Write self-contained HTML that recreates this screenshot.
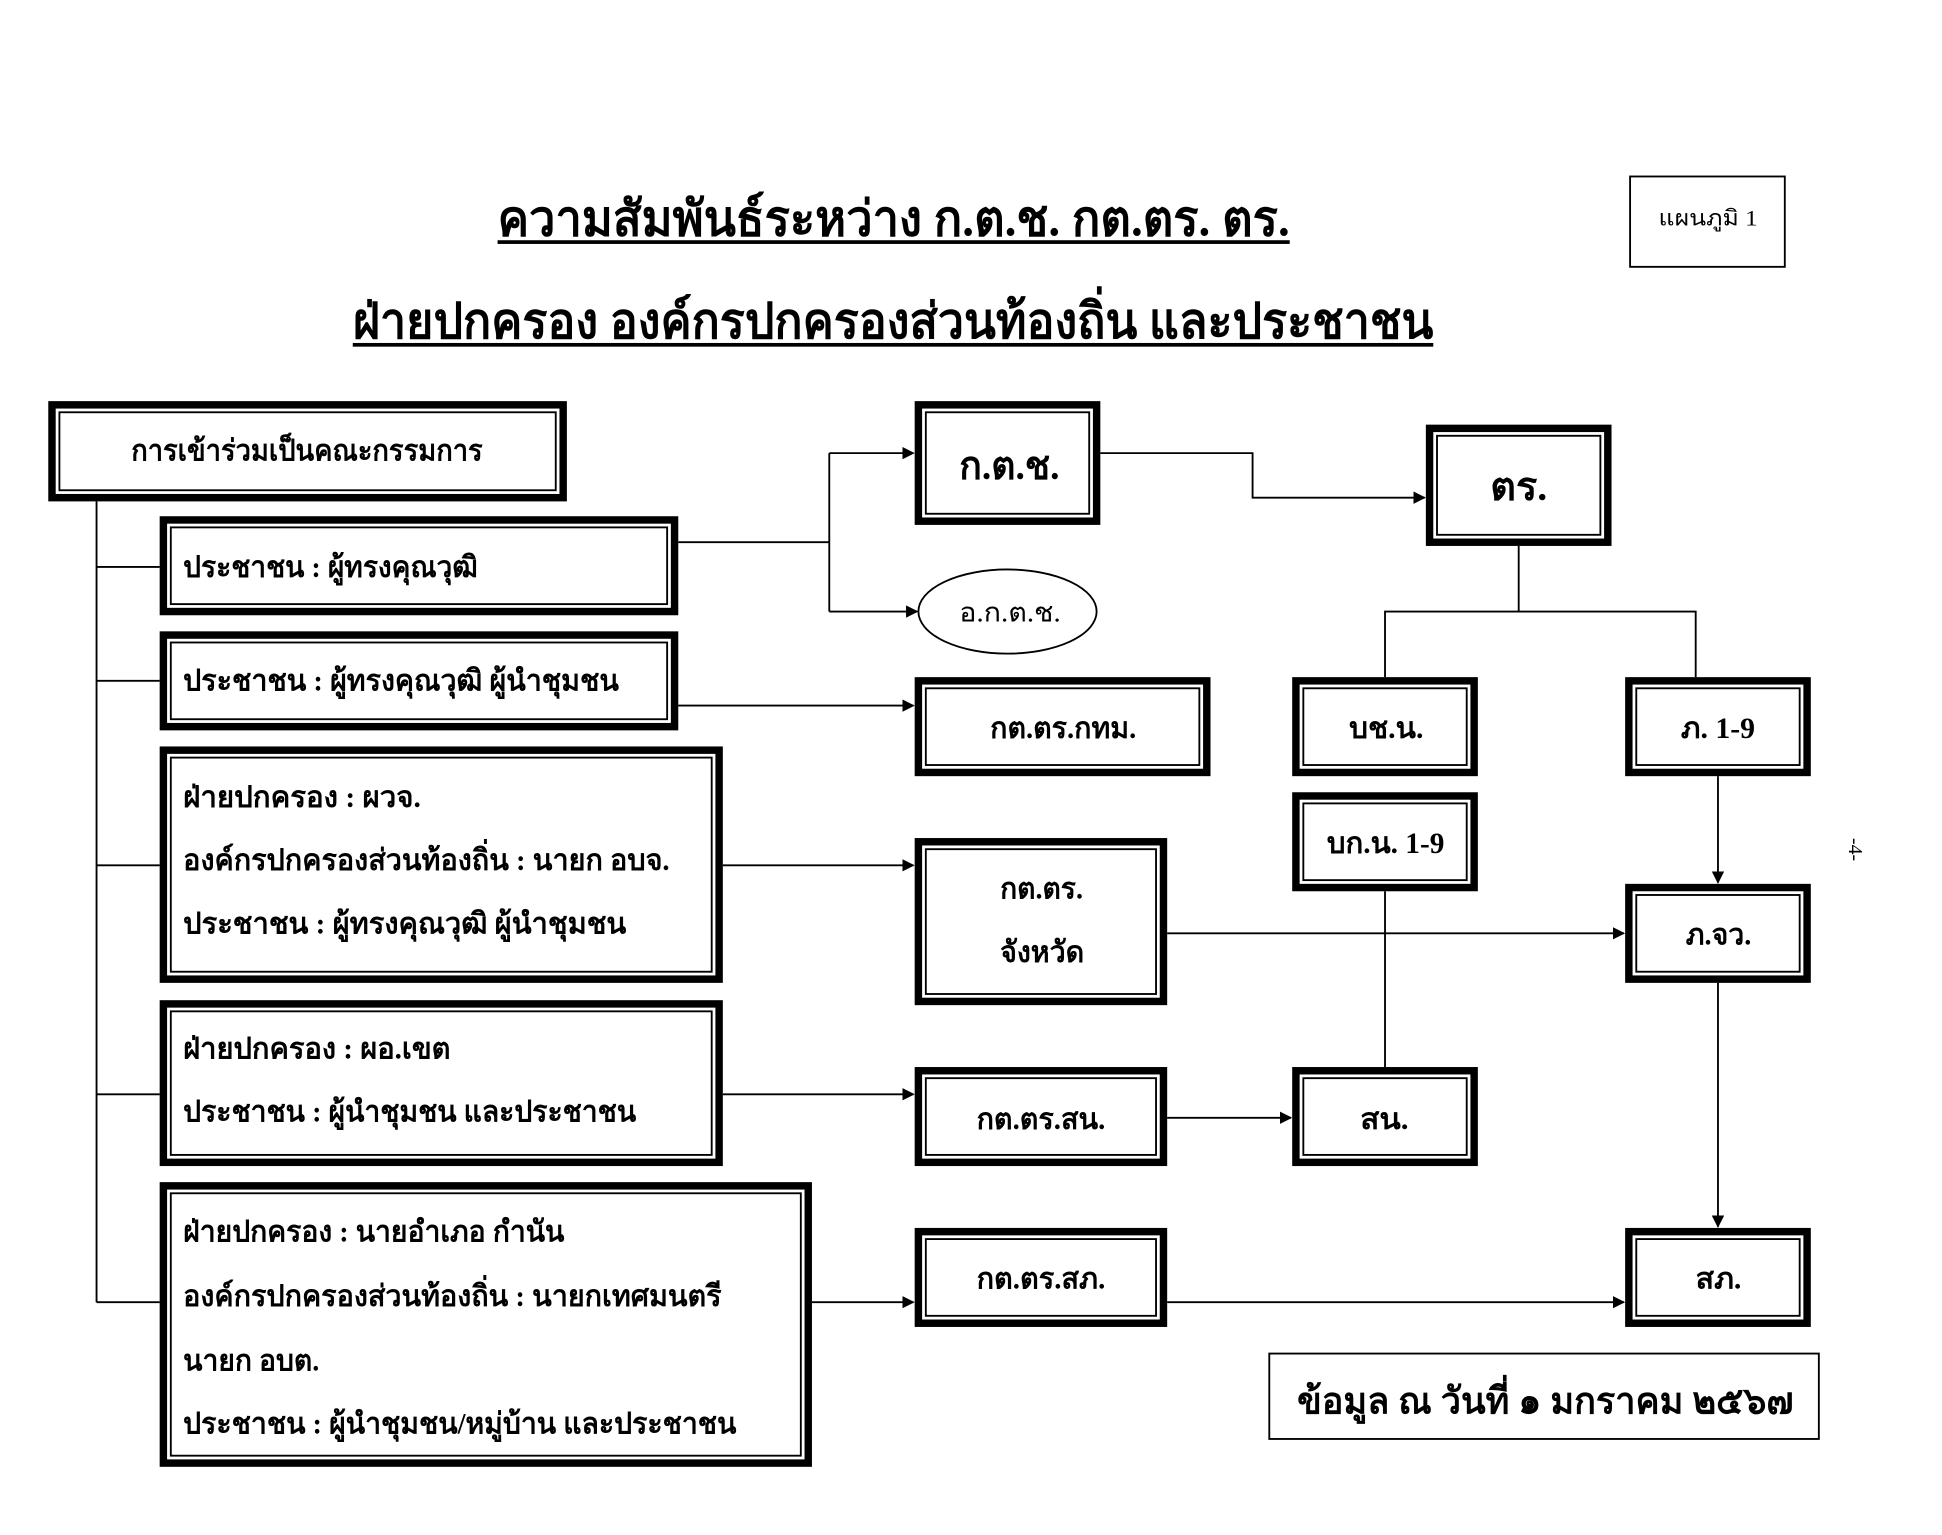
<!DOCTYPE html>
<html><head><meta charset="utf-8"><style>
html,body{margin:0;padding:0;background:#fff;}
svg{display:block}
text{font-family:"Liberation Serif","DejaVu Sans",serif;fill:#000}
.b{font-weight:bold}
</style></head><body>
<svg width="1942" height="1535" viewBox="0 0 1569 1240" xmlns="http://www.w3.org/2000/svg">
<defs>
<marker id="ar" markerWidth="10" markerHeight="10" refX="9" refY="5" orient="auto" markerUnits="userSpaceOnUse">
<path d="M0,0 L10,5 L0,10 z" fill="#000"/></marker>
</defs>
<rect width="1569" height="1240" fill="#fff"/>
<!-- titles -->
<text class="b" x="402" y="190" font-size="40" textLength="640" lengthAdjust="spacingAndGlyphs">ความสัมพันธ์ระหว่าง ก.ต.ช. กต.ตร. ตร.</text>
<rect x="402" y="194" width="640" height="3" fill="#000"/>
<text class="b" x="285" y="273" font-size="40" textLength="873" lengthAdjust="spacingAndGlyphs">ฝ่ายปกครอง องค์กรปกครองส่วนท้องถิ่น และประชาชน</text>
<rect x="285" y="277" width="873" height="3" fill="#000"/>
<rect x="1317" y="142.5" width="125" height="73" fill="none" stroke="#000" stroke-width="1.5"/>
<text x="1340" y="182" font-size="18" textLength="80" lengthAdjust="spacingAndGlyphs">แผนภูมิ 1</text>

<g fill="none" stroke="#000">
<g stroke-width="6">
<rect x="42" y="327" width="413" height="75"/>
<rect x="132" y="420" width="413" height="74"/>
<rect x="132" y="513" width="413" height="74"/>
<rect x="132" y="606" width="449" height="185"/>
<rect x="132" y="811" width="449" height="128"/>
<rect x="132" y="958" width="521" height="224"/>
<rect x="742" y="327" width="144" height="94"/>
<rect x="1155" y="346" width="144" height="92"/>
<rect x="1047" y="550" width="144" height="74"/>
<rect x="1316" y="550" width="144" height="74"/>
<rect x="1047" y="643" width="144" height="74"/>
<rect x="742" y="550" width="233" height="74"/>
<rect x="742" y="680" width="198" height="129"/>
<rect x="1316" y="717" width="144" height="74"/>
<rect x="742" y="865" width="198" height="74"/>
<rect x="1047" y="865" width="144" height="74"/>
<rect x="742" y="995" width="198" height="74"/>
<rect x="1316" y="995" width="144" height="74"/>
</g>
<g stroke-width="1.5">
<rect x="48" y="333" width="401" height="63"/>
<rect x="138" y="426" width="401" height="62"/>
<rect x="138" y="519" width="401" height="62"/>
<rect x="138" y="612" width="437" height="173"/>
<rect x="138" y="817" width="437" height="116"/>
<rect x="138" y="964" width="509" height="212"/>
<rect x="748" y="333" width="132" height="82"/>
<rect x="1161" y="352" width="132" height="80"/>
<rect x="1053" y="556" width="132" height="62"/>
<rect x="1322" y="556" width="132" height="62"/>
<rect x="1053" y="649" width="132" height="62"/>
<rect x="748" y="556" width="221" height="62"/>
<rect x="748" y="686" width="186" height="117"/>
<rect x="1322" y="723" width="132" height="62"/>
<rect x="748" y="871" width="186" height="62"/>
<rect x="1053" y="871" width="132" height="62"/>
<rect x="748" y="1001" width="186" height="62"/>
<rect x="1322" y="1001" width="132" height="62"/>
<rect x="1025.5" y="1093.5" width="444" height="69"/>
<ellipse cx="814" cy="494" rx="72" ry="34"/>
<path d="M78 405 V1052 M78 458 H129 M78 550 H129 M78 699 H129 M78 884 H129 M78 1052 H129"/>
<path d="M548 438 H670 M670 366 V494"/>
<path d="M670 366 H738" marker-end="url(#ar)"/>
<path d="M670 494 H741" marker-end="url(#ar)"/>
<path d="M889 366 H1012 V402 H1151" marker-end="url(#ar)"/>
<path d="M1227 441 V494 M1119 547 V494 H1370 V547"/>
<path d="M548 570 H738" marker-end="url(#ar)"/>
<path d="M584 699 H738" marker-end="url(#ar)"/>
<path d="M943 754 H1312" marker-end="url(#ar)"/>
<path d="M1388 627 V713" marker-end="url(#ar)"/>
<path d="M1388 794 V991" marker-end="url(#ar)"/>
<path d="M1119 720 V862"/>
<path d="M584 884 H738" marker-end="url(#ar)"/>
<path d="M943 903 H1043" marker-end="url(#ar)"/>
<path d="M656 1052 H738" marker-end="url(#ar)"/>
<path d="M943 1052 H1312" marker-end="url(#ar)"/>
</g>
</g>

<g class="b" font-size="24">
<text x="106" y="372" textLength="284" lengthAdjust="spacingAndGlyphs">การเข้าร่วมเป็นคณะกรรมการ</text>
<text x="148" y="466" textLength="238" lengthAdjust="spacingAndGlyphs">ประชาชน : ผู้ทรงคุณวุฒิ</text>
<text x="148" y="558" textLength="352" lengthAdjust="spacingAndGlyphs">ประชาชน : ผู้ทรงคุณวุฒิ  ผู้นำชุมชน</text>
<text x="148" y="652" textLength="192" lengthAdjust="spacingAndGlyphs">ฝ่ายปกครอง :  ผวจ.</text>
<text x="148" y="703" textLength="393" lengthAdjust="spacingAndGlyphs">องค์กรปกครองส่วนท้องถิ่น : นายก อบจ.</text>
<text x="148" y="754" textLength="358" lengthAdjust="spacingAndGlyphs">ประชาชน  : ผู้ทรงคุณวุฒิ  ผู้นำชุมชน</text>
<text x="148" y="855" textLength="216" lengthAdjust="spacingAndGlyphs">ฝ่ายปกครอง :  ผอ.เขต</text>
<text x="148" y="906" textLength="366" lengthAdjust="spacingAndGlyphs">ประชาชน  : ผู้นำชุมชน และประชาชน</text>
<text x="148" y="1003" textLength="308" lengthAdjust="spacingAndGlyphs">ฝ่ายปกครอง :  นายอำเภอ กำนัน</text>
<text x="148" y="1055" textLength="435" lengthAdjust="spacingAndGlyphs">องค์กรปกครองส่วนท้องถิ่น : นายกเทศมนตรี</text>
<text x="148" y="1107" textLength="110" lengthAdjust="spacingAndGlyphs">นายก อบต.</text>
<text x="148" y="1158" textLength="447" lengthAdjust="spacingAndGlyphs">ประชาชน  : ผู้นำชุมชน/หมู่บ้าน และประชาชน</text>
<text x="800" y="596" textLength="118" lengthAdjust="spacingAndGlyphs">กต.ตร.กทม.</text>
<text x="1090" y="596" textLength="60" lengthAdjust="spacingAndGlyphs">บช.น.</text>
<text x="1358" y="596" textLength="60" lengthAdjust="spacingAndGlyphs">ภ. 1-9</text>
<text x="1072" y="689" textLength="95" lengthAdjust="spacingAndGlyphs">บก.น. 1-9</text>
<text x="808" y="726" textLength="67" lengthAdjust="spacingAndGlyphs">กต.ตร.</text>
<text x="808" y="777" textLength="68" lengthAdjust="spacingAndGlyphs">จังหวัด</text>
<text x="1362" y="763" textLength="53" lengthAdjust="spacingAndGlyphs">ภ.จว.</text>
<text x="789" y="912" textLength="104" lengthAdjust="spacingAndGlyphs">กต.ตร.สน.</text>
<text x="1099" y="912" textLength="39" lengthAdjust="spacingAndGlyphs">สน.</text>
<text x="789" y="1041" textLength="104" lengthAdjust="spacingAndGlyphs">กต.ตร.สภ.</text>
<text x="1370" y="1041" textLength="37" lengthAdjust="spacingAndGlyphs">สภ.</text>
</g>
<text class="b" x="775" y="387" font-size="32" textLength="81" lengthAdjust="spacingAndGlyphs">ก.ต.ช.</text>
<text class="b" x="1204" y="404" font-size="32" textLength="46" lengthAdjust="spacingAndGlyphs">ตร.</text>
<text x="775" y="502" font-size="22" textLength="82" lengthAdjust="spacingAndGlyphs">อ.ก.ต.ช.</text>
<text class="b" x="1048" y="1142" font-size="30" textLength="401" lengthAdjust="spacingAndGlyphs">ข้อมูล ณ วันที่ ๑ มกราคม ๒๕๖๗</text>
<text x="1488" y="683" font-size="16" transform="rotate(90 1494 683)">-4-</text>
</svg>
</body></html>
